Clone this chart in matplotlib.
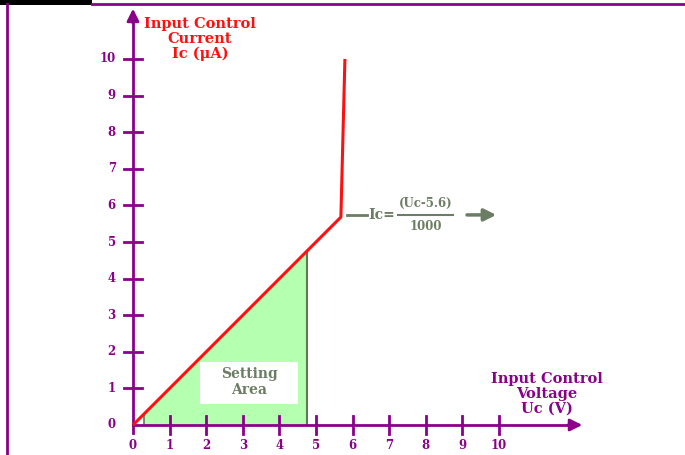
import matplotlib.pyplot as plt
from matplotlib.patches import Polygon, Rectangle
from matplotlib.lines import Line2D

# 資料
x_ticks = [0, 1, 2, 3, 4, 5, 6, 7, 8, 9, 10]
y_ticks = [0, 1, 2, 3, 4, 5, 6, 7, 8, 9, 10]
curve_uc = [0, 5.68, 5.79]
curve_ic = [0, 5.68, 10.0]
area_uc = [0.3, 4.75]
y_label = "Input Control\nCurrent\nIc (μA)"
x_label = "Input Control\nVoltage\nUc (V)"
area_label = "Setting\nArea"
formula_lhs = "Ic="
formula_num = "(Uc-5.6)"
formula_den = "1000"

purple = '#8b008b'
red = '#ff1010'
green_fill = '#b4ffb0'
green_edge = '#5f7a5a'
gray_green = '#6b7d62'

plt.rcParams['font.family'] = ['DejaVu Serif']
plt.rcParams['font.weight'] = 'bold'

fig = plt.figure(figsize=(6.85, 4.55), dpi=100)
ax = fig.add_axes([0, 0, 1, 1])
s = 36.6
ax.set_xlim(-133 / s, (685 - 133) / s)
ax.set_ylim((425 - 455) / s, 425 / s)
ax.axis('off')

# 外框
fig.add_artist(Rectangle((0, 1 - 5 / 455), 92 / 685, 5 / 455, transform=fig.transFigure,
                         color='black', lw=0))
fig.add_artist(Line2D([92 / 685, 1], [1 - 4 / 455, 1 - 4 / 455], transform=fig.transFigure,
                      color=purple, lw=2))
fig.add_artist(Line2D([7 / 685, 7 / 685], [0, 1 - 4 / 455], transform=fig.transFigure,
                      color=purple, lw=2))

# 設定區域
top = area_uc[1]
poly = Polygon([(area_uc[0], 0), (area_uc[0], area_uc[0]), (top, top), (top, 0)],
               closed=True, facecolor=green_fill, edgecolor='none', zorder=1)
ax.add_patch(poly)
ax.plot([area_uc[0], area_uc[0]], [0, area_uc[0]], color=green_edge, lw=1.2, zorder=2)
ax.plot([top, top], [0, top], color=green_edge, lw=1.5, zorder=2)
ax.add_patch(Rectangle((1.83, 0.57), 2.67, 1.15, facecolor='white', edgecolor='none', zorder=2))
ax.text(3.17, 1.18, area_label, ha='center', va='center', color=gray_green,
        fontsize=10, linespacing=1.15, zorder=3)

# 座標軸
ax.plot([0, 0], [-0.22, 11.2], color=purple, lw=2, zorder=4)
ax.plot([0, 12.0], [0, 0], color=purple, lw=2, zorder=4)
ax.annotate('', xy=(0, 11.45), xytext=(0, 10.9),
            arrowprops=dict(arrowstyle='-|>', color=purple, lw=2, mutation_scale=18), zorder=4)
ax.annotate('', xy=(12.35, 0), xytext=(11.8, 0),
            arrowprops=dict(arrowstyle='-|>', color=purple, lw=2, mutation_scale=18), zorder=4)

for t in x_ticks:
    if t > 0:
        ax.plot([t, t], [-0.25, 0.25], color=purple, lw=2, zorder=4)
    ax.text(t, -0.56, str(t), ha='center', va='center', color=purple, fontsize=8.5)
for t in y_ticks:
    if t > 0:
        ax.plot([-0.25, 0.25], [t, t], color=purple, lw=2, zorder=4)
    ax.text(-0.47, t, str(t), ha='right', va='center', color=purple, fontsize=8.5)

# 特性曲線
ax.plot(curve_uc, curve_ic, color=red, lw=2.2, zorder=5, solid_capstyle='butt')

# 公式
fy = 5.74
ax.plot([5.85, 6.4], [fy, fy], color=gray_green, lw=2)
ax.text(6.42, fy, formula_lhs, ha='left', va='center', color=gray_green, fontsize=10)
ax.text(8.0, fy + 0.3, formula_num, ha='center', va='center', color=gray_green, fontsize=8.5)
ax.text(8.0, fy - 0.33, formula_den, ha='center', va='center', color=gray_green, fontsize=8.5)
ax.plot([7.25, 8.75], [fy, fy], color=gray_green, lw=1.5)
ax.annotate('', xy=(10.0, fy), xytext=(9.05, fy),
            arrowprops=dict(arrowstyle='-|>', color=gray_green, lw=2.5, mutation_scale=18))

# 軸標籤
ax.text(1.83, 10.55, y_label, ha='center', va='center', color=red, fontsize=10.5, linespacing=1.05)
ax.text(11.3, 0.85, x_label, ha='center', va='center', color=purple, fontsize=10.5, linespacing=1.05)

fig.savefig('out.png', dpi=100)
